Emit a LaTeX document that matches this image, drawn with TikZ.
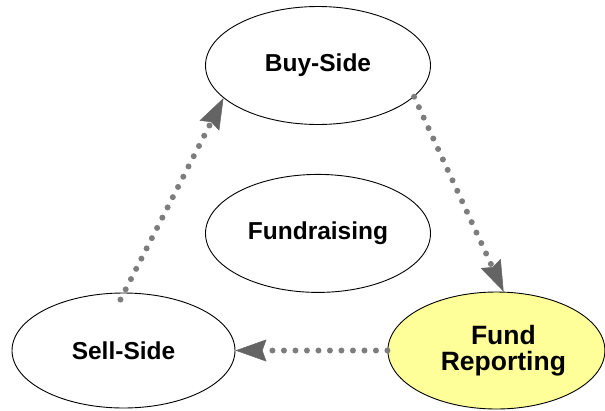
\documentclass[tikz,border=0pt]{standalone}
\usepackage{fontspec}
\setmainfont{Liberation Sans}
\usetikzlibrary{arrows.meta,shapes,positioning}
\definecolor{flowgray}{RGB}{125,125,125}
\definecolor{tipgray}{RGB}{100,100,100}
\definecolor{paleyellow}{RGB}{255,255,153}

\begin{document}
\begin{tikzpicture}[x=1pt,y=-1pt]
      \tikzstyle{oval}=[ellipse, draw, line width=0.9pt, inner sep=0pt,
        minimum width=225pt, minimum height=118pt,
        font=\fontsize{24.5}{26}\selectfont\bfseries]
      \tikzstyle{flow}=[flowgray, line width=6pt, line cap=round,
        dash pattern=on 0pt off 11.5pt,
        -{Stealth[length=31pt,width=22pt,inset=4pt,line width=0.5pt,
          color=tipgray,fill=tipgray,line cap=butt]}]
      \useasboundingbox (0,0) rectangle (605,410);
      \node[oval] (Buy) at (318,65.5) {Buy-Side};
      \node[oval, below = 49pt of Buy] (Fund) {Fundraising};
      \node[oval, minimum width=223pt, minimum height=115pt] (Sell) at (123.5,350.5) {Sell-Side};
      \node[oval, fill=paleyellow, minimum width=217pt, minimum height=117pt,
        align=center, font=\fontsize{26.5}{25.5}\selectfont\bfseries,
        right = 152pt of Sell] (Report) {\hspace*{14pt}Fund\\\hspace*{14pt}Reporting};
      \draw [flow] (Buy.-18) -- (Report.83);
      \draw [flow] (Report.west) -- (Sell.east);
      \draw [flow] ([yshift=-7pt]Sell.93) -- (Buy.199);
    \end{tikzpicture}
\end{document}
